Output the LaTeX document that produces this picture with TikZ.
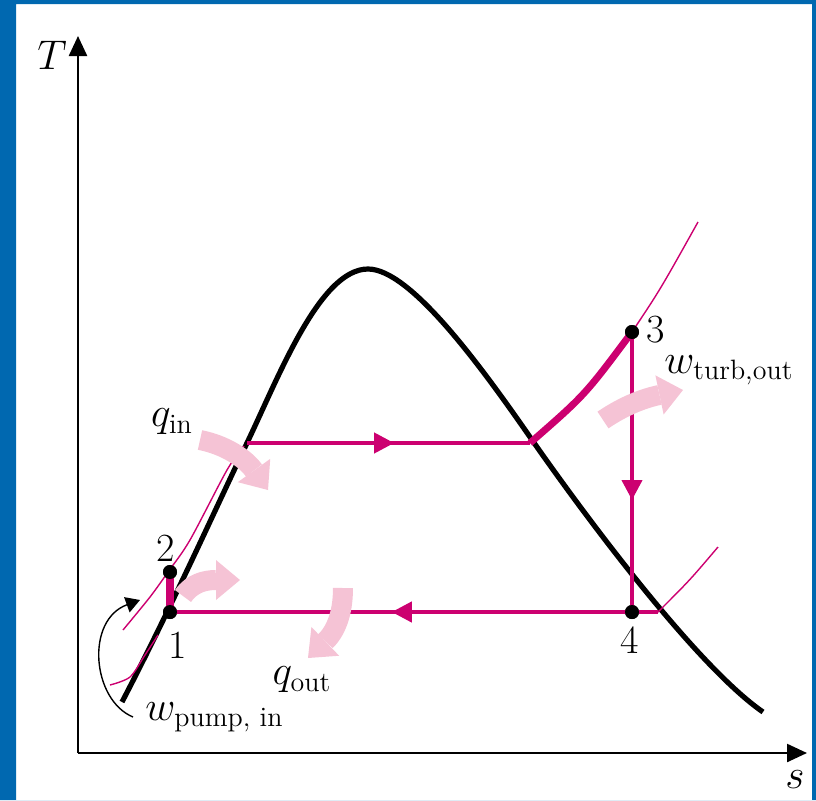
\documentclass[tikz,border=0pt]{standalone}
\usepackage{amsmath}
\usepackage{tikz}
\usetikzlibrary{arrows.meta,decorations.markings,calc}
\definecolor{frame}{HTML}{0068B0}
\definecolor{cycle}{HTML}{CC0070}
\definecolor{heat}{HTML}{F5C3D5}
\tikzset{
  axisline/.style = {line width=1.2pt, -{Triangle[length=10pt,width=9pt]}},
  dome/.style     = {line width=2.6pt, black, line join=round},
  cyc/.style      = {line width=2pt, color=cycle},
  isobar/.style   = {line width=0.7pt, color=cycle},
  flowmark/.style = {postaction={decorate},
                     decoration={markings, mark=at position #1 with {\arrow{Triangle[length=10pt,width=10pt]}}}},
  statept/.style  = {circle, fill=black, inner sep=0pt, minimum size=7pt},
  heatflow/.style = {line width=10pt, draw=heat, -{Triangle[length=12pt,width=20pt,line width=0pt]}},
  pumpflow/.style = {line width=0.7pt, -{Triangle[length=7pt,width=8pt]}},
  lbl/.style      = {font=\fontsize{20}{24}\selectfont, inner sep=0pt},
}

\begin{document}
\begin{tikzpicture}[x=0.5pt, y=-0.5pt]
  \useasboundingbox (0,0) rectangle (816,800);

  % axes
  \coordinate (O) at (78,753);
  \draw[axisline] (O) -- (78,36) coordinate (Tend);
  \draw[axisline] (O) -- (807,753) coordinate (send);
  \node[lbl] (Tlbl) at (52,55) {$T$};
  \node[lbl] (slbl) at (795,780) {$s$};

  % saturation dome
  \draw[dome] (122,702) .. controls (170,610) and (215,510) .. (247,443)
    .. controls (279,376) and (320,269) .. (368,269)
    .. controls (410,269) and (480,365) .. (530,437)
    .. controls (580,509) and (695,665) .. (763,712);

  % state points
  \node[statept] (p1) at (170,612) {};
  \node[statept] (p2) at (170,572) {};
  \node[statept] (p3) at (632,332) {};
  \node[statept] (p4) at (632,612) {};
  \coordinate (f) at (247,443);
  \coordinate (g) at (530,443);
  \coordinate (e4) at (658,612);

  % isobars
  \draw[isobar] plot[smooth] coordinates {(123,630) (150,597) (168,572) (190,540) (227,470) (244,446)};
  \draw[isobar] plot[smooth] coordinates {(110,685) (130,677) (145,655) (158,635)};
  \draw[isobar] (p3.center) .. controls (660,290) .. (698,222);
  \draw[isobar] (e4) .. controls (690,580) .. (718,547);

  % cycle
  \draw[cyc, line width=4pt] (p1.center) -- (p2.center);
  \draw[cyc, flowmark=0.52] (f) -- (g);
  \draw[cyc, line width=3.5pt] (g) .. controls (585,395) .. (p3.center);
  \draw[cyc, flowmark=0.6] (p3.center) -- (p4.center);
  \draw[cyc] (e4) -- (p4.center);
  \draw[cyc, flowmark=0.52] (p4.center) -- (p1.center);
  \node[statept] at (p1) {};
  \node[statept] at (p2) {};
  \node[statept] at (p3) {};
  \node[statept] at (p4) {};

  % heat and work arrows
  \draw[heatflow] (200,440) .. controls (225,445) and (245,458) .. (268,490);
  \draw[heatflow] (183,596) .. controls (192,583) and (205,580) .. (240,580);
  \draw[heatflow] (343,588) .. controls (343,615) and (335,632) .. (308,658);
  \draw[heatflow] (603,420) .. controls (625,405) and (645,398) .. (683,390);

  % labels
  \node[lbl] (l1) at (178,645) {1};
  \node[lbl] (l2) at (166,548) {2};
  \node[lbl] (l3) at (656,330) {3};
  \node[lbl] (l4) at (630,640) {4};
  \node[lbl] (qin) at (172,422) {$q_{\text{in}}$};
  \node[lbl] (qout) at (302,680) {$q_{\text{out}}$};
  \node[lbl, anchor=west] (wturb) at (664,370) {$w_{\text{turb,out}}$};
  \node[lbl, anchor=west] (wpump) at (145,717) {$w_{\text{pump, in}}$};
  \coordinate (pumptip) at (140,600);
  \draw[pumpflow] ([xshift=-6pt]wpump.west) .. controls (92,700) and (85,620) .. (pumptip);

  % frame
  \fill[frame, even odd rule] (0,0) rectangle (816,800) (16,4) rectangle (812,800);
\end{tikzpicture}
\end{document}
